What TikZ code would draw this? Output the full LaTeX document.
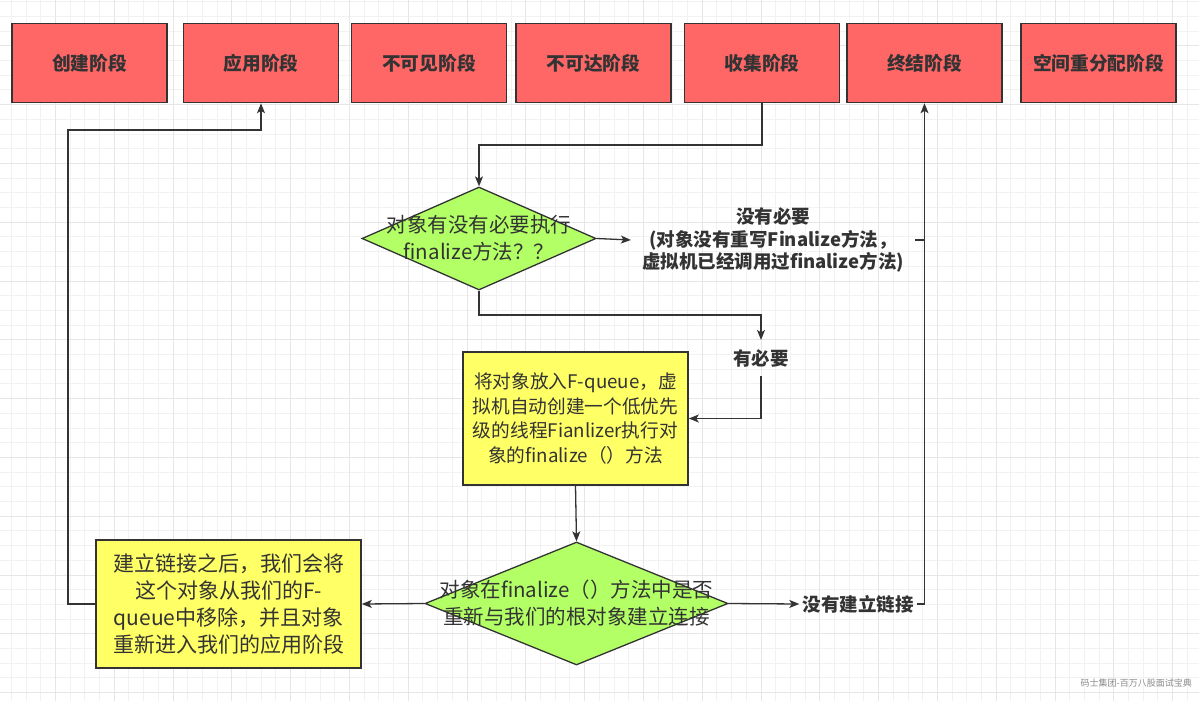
\documentclass[tikz,border=0pt]{standalone}
\usepackage{fontspec}
\setmainfont{Noto Sans CJK SC}
\usetikzlibrary{shapes.geometric,arrows.meta}
\definecolor{stroke}{HTML}{333333}
\definecolor{redfill}{HTML}{FF6666}
\definecolor{greenfill}{HTML}{B3FF66}
\definecolor{yellowfill}{HTML}{FFFF66}
\definecolor{txt}{HTML}{333333}
\definecolor{gridminor}{HTML}{F2F2F2}
\definecolor{gridmajor}{HTML}{E6E6E6}
\begin{document}
\begin{tikzpicture}[x=1pt,y=-1pt,
  stage/.style={draw=stroke, line width=1.6pt, fill=redfill, minimum width=155pt, minimum height=79pt, inner sep=0pt, text=txt, font=\fontsize{18.7}{22}\selectfont\bfseries},
  dia/.style={shape=diamond, draw=stroke, line width=1.3pt, fill=greenfill, inner sep=0pt},
  dtext/.style={align=center, text=txt, inner sep=0pt, font=\fontsize{20.5}{27}\selectfont},
  ybox/.style={draw=stroke, line width=1.6pt, fill=yellowfill, inner sep=0pt, align=center, text=txt},
  lbl/.style={align=center, text=txt, font=\fontsize{18.5}{22.5}\selectfont\bfseries},
  conn/.style={draw=stroke, line width=1.3pt, -{Stealth[length=10pt,width=8pt,inset=2.5pt]}},
  plain/.style={draw=stroke, line width=1.3pt}]
\useasboundingbox (0,0) rectangle (1199,701);
\fill[white] (0,0) rectangle (1199,701);
% grid
\foreach \i in {0,...,81} \draw[gridminor, line width=1pt] ({11.3+14.7*\i},0) -- ({11.3+14.7*\i},701);
\foreach \i in {0,...,47} \draw[gridminor, line width=1pt] (0,{1.7+14.7*\i}) -- (1199,{1.7+14.7*\i});
\foreach \i in {0,...,20} \draw[gridmajor, line width=1pt] ({55.4+58.8*\i},0) -- ({55.4+58.8*\i},701);
\foreach \i in {0,...,11} \draw[gridmajor, line width=1pt] (0,{45.8+58.8*\i}) -- (1199,{45.8+58.8*\i});
% stages
\node[stage] (s1) at (89.5,63) {创建阶段};
\node[stage] (s2) at (261,63) {应用阶段};
\node[stage] (s3) at (429,63) {不可见阶段};
\node[stage] (s4) at (593.5,63) {不可达阶段};
\node[stage] (s5) at (762,63) {收集阶段};
\node[stage] (s6) at (924.5,63) {终结阶段};
\node[stage] (s7) at (1098.5,63) {空间重分配阶段};
% decision 1
\node[dia, minimum width=234pt, minimum height=103pt] (d1) at (479,238.5) {};
\node[dtext] (d1t) at (d1.center) {对象有没有必要执行\\finalize方法？？};
\node[lbl, inner xsep=11pt, inner ysep=2pt] (l1) at (773,240) {没有必要\\(对象没有重写Finalize方法，\\虚拟机已经调用过finalize方法)};
\node[lbl, inner xsep=2pt, inner ysep=9pt] (l2) at (761,358) {有必要};
% process 1
\node[ybox, minimum width=225pt, minimum height=133pt, font=\fontsize{18.7}{24.5}\selectfont] (y1) at (575.5,418.5) {将对象放入F-queue，虚\\拟机自动创建一个低优先\\级的线程Fianlizer执行对\\象的finalize（）方法};
% decision 2
\node[dia, minimum width=303pt, minimum height=123pt] (d2) at (576.5,603.5) {};
\node[dtext] (d2t) at (d2.center) {对象在finalize（）方法中是否\\重新与我们的根对象建立连接};
\node[lbl, inner xsep=3pt] (nb) at (858,604) {没有建立链接};
% process 2
\node[ybox, minimum width=265pt, minimum height=128pt, font=\fontsize{21}{27}\selectfont] (y2) at (228.5,604) {建立链接之后，我们会将\\这个对象从我们的F-\\queue中移除，并且对象\\重新进入我们的应用阶段};
% helper coordinates
\coordinate (c1) at (68,130);
\coordinate (c2) at (762,145);
\coordinate (c3) at (479,315);
% connectors
\draw[conn] (s5.south) -- (c2) -| (d1.north);
\draw[conn] (d1.east) -- (l1.west);
\draw[plain] (l1.east) -- (l1.east -| s6.south);
\draw[conn] (d1.south) -- (c3) -| (l2.north);
\draw[conn] (l2.south) |- (y1.east);
\draw[conn] (y1.south) -- (d2.north);
\draw[conn] (d2.east) -- (nb.west);
\draw[conn] (nb.east) -| (s6.south);
\draw[conn] (d2.west) -- (y2.east);
\draw[conn] (y2.west) -| (c1) -| (s2.south);
% watermark
\node[anchor=east, inner sep=0pt, text=black!45, font=\fontsize{9}{10}\selectfont] (wm) at (1192,683) {码士集团-百万八股面试宝典};
\end{tikzpicture}
\end{document}
